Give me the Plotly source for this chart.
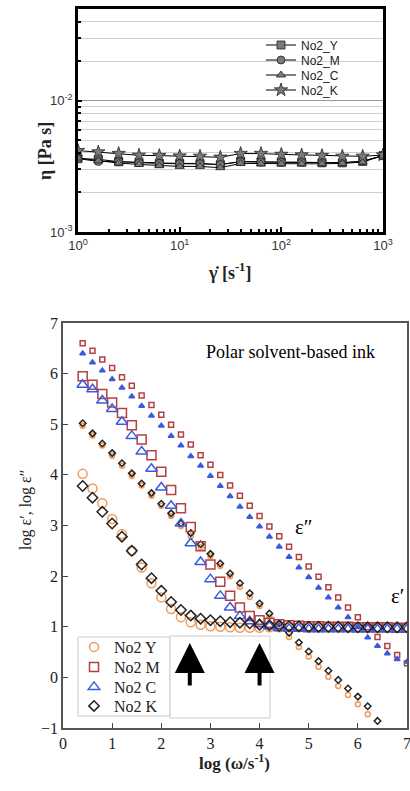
import plotly.graph_objects as go

W, H = 410, 791

# ---------------- top chart data (viscosity) ----------------
shear_rate = [1, 1.585, 2.512, 3.981, 6.31, 10, 15.85, 25.12, 39.81, 63.1,
              100, 158.5, 251.2, 398.1, 631, 1000]
eta_Y = [3.62e-3, 3.58e-3, 3.43e-3, 3.40e-3, 3.33e-3, 3.33e-3, 3.33e-3, 3.26e-3,
         3.45e-3, 3.41e-3, 3.40e-3, 3.40e-3, 3.37e-3, 3.37e-3, 3.45e-3, 3.82e-3]
eta_M = [3.62e-3, 3.45e-3, 3.43e-3, 3.37e-3, 3.33e-3, 3.31e-3, 3.31e-3, 3.26e-3,
         3.43e-3, 3.41e-3, 3.40e-3, 3.40e-3, 3.37e-3, 3.37e-3, 3.47e-3, 3.82e-3]
eta_C = [3.66e-3, 3.49e-3, 3.35e-3, 3.27e-3, 3.20e-3, 3.16e-3, 3.16e-3, 3.09e-3,
         3.33e-3, 3.31e-3, 3.31e-3, 3.31e-3, 3.31e-3, 3.33e-3, 3.41e-3, 3.82e-3]
eta_K = [4.17e-3, 4.07e-3, 3.96e-3, 3.84e-3, 3.82e-3, 3.79e-3, 3.77e-3, 3.71e-3,
         3.96e-3, 3.96e-3, 3.90e-3, 3.86e-3, 3.82e-3, 3.77e-3, 3.77e-3, 3.86e-3]
top_names = ["No2_Y", "No2_M", "No2_C", "No2_K"]
top_tickvals_x = [1, 10, 100, 1000]
top_ticktext_x = ["10<sup>0</sup>", "10<sup>1</sup>", "10<sup>2</sup>", "10<sup>3</sup>"]
top_tickvals_y = [0.001, 0.01]
top_ticktext_y = ["10<sup>-3</sup>", "10<sup>-2</sup>"]
top_minor_y = [0.002, 0.003, 0.004, 0.005, 0.006, 0.007, 0.008, 0.009,
               0.02, 0.03, 0.04]
top_minor_x = [2, 3, 4, 5, 6, 7, 8, 9, 20, 30, 40, 50, 60, 70, 80, 90,
               200, 300, 400, 500, 600, 700, 800, 900]

# ---------------- bottom chart data (dielectric) ----------------
log_w = [0.4, 0.6, 0.8, 1.0, 1.2, 1.4, 1.6, 1.8, 2.0, 2.2, 2.4, 2.6, 2.8, 3.0,
         3.2, 3.4, 3.6, 3.8, 4.0, 4.2, 4.4, 4.6, 4.8, 5.0, 5.2, 5.4, 5.6, 5.8,
         6.0, 6.2, 6.4, 6.6, 6.8, 7.0]
# epsilon' (large open markers)
e1_Y = [4.02, 3.73, 3.44, 3.13, 2.83, 2.50, 2.17, 1.86, 1.58, 1.35, 1.19, 1.09,
        1.04, 1.01, 1.00, 0.99, 0.98, 0.98, 0.98, 0.99, 0.99, 0.99, 0.99, 0.99,
        0.99, 0.99, 0.99, 0.99, 0.99, 0.98, 0.98, 0.98, 0.98, 0.98]
e1_M = [5.95, 5.78, 5.60, 5.43, 5.22, 4.98, 4.70, 4.39, 4.06, 3.70, 3.34, 2.97,
        2.59, 2.23, 1.89, 1.61, 1.38, 1.21, 1.13, 1.08, 1.05, 1.03, 1.02, 1.01,
        1.01, 1.00, 1.00, 1.00, 0.99, 0.99, 0.99, 0.99, 0.98, 0.98]
e1_C = [5.78, 5.69, 5.47, 5.30, 5.05, 4.77, 4.46, 4.12, 3.75, 3.39, 3.04, 2.65,
        2.28, 1.94, 1.61, 1.38, 1.21, 1.11, 1.05, 1.01, 0.97, 0.96, 0.96, 0.95,
        0.95, 0.95, 0.95, 0.95, 0.95, 0.95, 0.95, 0.95, 0.95, 0.95]
e1_K = [3.78, 3.55, 3.27, 3.04, 2.78, 2.50, 2.23, 1.96, 1.71, 1.49, 1.33, 1.22,
        1.16, 1.13, 1.11, 1.09, 1.08, 1.07, 1.04, 1.03, 1.02, 1.01, 1.01, 1.00,
        1.00, 1.00, 1.00, 0.99, 0.99, 0.99, 0.99, 0.99, 0.99, 0.99]
# epsilon'' (small markers)
e2_Y = [4.97, 4.78, 4.58, 4.38, 4.18, 3.98, 3.79, 3.59, 3.39, 3.19, 2.99, 2.79,
        2.57, 2.40, 2.20, 2.00, 1.79, 1.59, 1.41, 1.20, 1.02, 0.80, 0.60, 0.41,
        0.21, 0.01, -0.17, -0.35, -0.53, -0.73, None, None, None, None]
e2_M = [6.60, 6.45, 6.28, 6.11, 5.93, 5.76, 5.57, 5.38, 5.19, 4.99, 4.80, 4.60,
        4.39, 4.20, 4.00, 3.79, 3.59, 3.39, 3.19, 2.98, 2.79, 2.58, 2.38, 2.19,
        1.99, 1.78, 1.58, 1.38, 1.19, 0.99, 0.80, 0.62, 0.44, 0.28]
e2_C = [6.40, 6.22, 6.06, 5.89, 5.72, 5.55, 5.36, 5.17, 4.97, 4.77, 4.58, 4.37,
        4.18, 3.98, 3.78, 3.58, 3.37, 3.17, 2.98, 2.78, 2.58, 2.38, 2.17, 1.98,
        1.77, 1.58, 1.38, 1.19, 0.99, 0.79, 0.62, 0.47, 0.36, 0.31]
e2_K = [5.02, 4.82, 4.62, 4.43, 4.23, 4.03, 3.83, 3.64, 3.43, 3.24, 3.04, 2.85,
        2.63, 2.44, 2.25, 2.05, 1.86, 1.66, 1.46, 1.26, 1.07, 0.88, 0.69, 0.51,
        0.32, 0.13, -0.05, -0.22, -0.38, -0.57, -0.86, None, None, None]
bottom_names = ["No2 Y", "No2 M", "No2 C", "No2 K"]
arrow_x = [2.58, 4.0]

# ---------------- styles ----------------
SERIF = "Liberation Serif"
SANS = "Liberation Sans"
COL = {"Y": "#F39A56", "M": "#B5403F", "C": "#3A5BE0", "K": "#222222"}


def px_x(p):
    return p / W


def px_y(p):
    return 1 - p / H


fig = go.Figure()
legends = {}

# top traces, each in its own single-entry legend (for exact row spacing)
top_symbols = ["square", "circle", "triangle-up", "star"]
top_leg_rows = [45, 60, 75, 90]
for i, (name, vals, sym) in enumerate(zip(top_names, [eta_Y, eta_M, eta_C, eta_K], top_symbols)):
    lg = "legend" if i == 0 else f"legend{i + 1}"
    fig.add_trace(go.Scatter(
        x=shear_rate, y=vals, name=name, mode="lines+markers",
        line=dict(color="black", width=1),
        marker=dict(symbol=sym, size=10 if sym == "star" else 8, color="#7a7a7a",
                    line=dict(color="#222", width=0.8)),
        xaxis="x", yaxis="y", legend=lg))
    legends[lg] = dict(x=px_x(261), y=px_y(top_leg_rows[i]), xanchor="left", yanchor="middle",
                       bgcolor="rgba(0,0,0,0)", borderwidth=0,
                       font=dict(family=SANS, size=12, color="#222"), itemwidth=30)

# bottom traces: epsilon'' small markers (drawn first)
small = [("Y", e2_Y, "circle-open", 5), ("M", e2_M, "square-open", 5),
         ("C", e2_C, "triangle-up", 5), ("K", e2_K, "diamond-open", 5)]
for key, vals, sym, sz in small:
    fig.add_trace(go.Scatter(
        x=log_w, y=vals, mode="markers", showlegend=False,
        marker=dict(symbol=sym, size=sz, color=COL[key], line=dict(color=COL[key], width=1.5)),
        xaxis="x2", yaxis="y2"))

big = [("Y", e1_Y, "circle-open", 9), ("M", e1_M, "square-open", 9),
       ("C", e1_C, "triangle-up-open", 10), ("K", e1_K, "diamond-open", 8)]
bot_leg_rows = [647, 667, 687, 706]
for i, ((key, vals, sym, sz), name) in enumerate(zip(big, bottom_names)):
    lg = f"legend{i + 5}"
    fig.add_trace(go.Scatter(
        x=log_w, y=vals, mode="markers", name=name,
        marker=dict(symbol=sym, size=sz, color=COL[key], line=dict(color=COL[key], width=1.5)),
        xaxis="x2", yaxis="y2", legend=lg))
    legends[lg] = dict(x=px_x(74), y=px_y(bot_leg_rows[i]), xanchor="left", yanchor="middle",
                       bgcolor="rgba(0,0,0,0)", borderwidth=0,
                       font=dict(family=SERIF, size=16, color="#222"), itemwidth=30)

# layout axes
top_dom_x = [px_x(78), px_x(383)]
top_dom_y = [px_y(232), px_y(9)]
bot_dom_x = [px_x(63), px_x(407)]
bot_dom_y = [px_y(728), px_y(323)]

fig.update_layout(
    width=W, height=H, margin=dict(l=0, r=0, t=0, b=0, autoexpand=False),
    paper_bgcolor="white", plot_bgcolor="white",
    xaxis=dict(domain=top_dom_x, type="log", range=[0, 3], anchor="y", automargin=False,
               tickvals=top_tickvals_x, ticktext=top_ticktext_x, ticklabeloverflow="allow",
               ticks="inside", ticklen=5, tickwidth=2, tickcolor="black",
               showgrid=False, zeroline=False,
               showline=True, linewidth=2.5, linecolor="black", mirror=True,
               tickfont=dict(family=SANS, size=13, color="#333"),
               minor=dict(tickmode="array", tickvals=top_minor_x, ticks="inside",
                          ticklen=3, tickwidth=2, tickcolor="black", showgrid=False)),
    yaxis=dict(domain=top_dom_y, type="log", range=[-3, -1.301], anchor="x", automargin=False,
               tickvals=top_tickvals_y, ticktext=top_ticktext_y, ticklabeloverflow="allow",
               ticks="inside", ticklen=4, tickwidth=1.5, tickcolor="black",
               showgrid=True, gridcolor="#9a9a9a", gridwidth=1, zeroline=False,
               showline=True, linewidth=2.5, linecolor="black", mirror=True,
               tickfont=dict(family=SANS, size=13, color="#333"),
               minor=dict(tickmode="array", tickvals=top_minor_y, ticks="inside",
                          ticklen=3, tickwidth=1.5, tickcolor="black",
                          showgrid=True, gridcolor="#cfcfcf", gridwidth=1)),
    xaxis2=dict(domain=bot_dom_x, range=[0, 7], anchor="y2", automargin=False,
                tickvals=[0, 1, 2, 3, 4, 5, 6, 7], ticklabeloverflow="allow",
                ticks="inside", ticklen=5, tickwidth=1, tickcolor="#444",
                showgrid=False, zeroline=False,
                showline=True, linewidth=1.5, linecolor="#555", mirror=True,
                tickfont=dict(family=SERIF, size=16, color="#222")),
    yaxis2=dict(domain=bot_dom_y, range=[-1, 7], anchor="x2", automargin=False,
                tickvals=[-1, 0, 1, 2, 3, 4, 5, 6, 7], ticklabeloverflow="allow",
                ticks="inside", ticklen=5, tickwidth=1, tickcolor="#444",
                showgrid=False, zeroline=False,
                showline=True, linewidth=1.5, linecolor="#555", mirror=True,
                tickfont=dict(family=SERIF, size=16, color="#222")),
    showlegend=True,
    **legends,
)

# boxes around legend / arrow region (bottom chart)
fig.add_shape(type="rect", xref="paper", yref="paper",
              x0=px_x(78), x1=px_x(170), y0=px_y(716), y1=px_y(637),
              line=dict(color="#cccccc", width=1), fillcolor="white", layer="below")
fig.add_shape(type="rect", xref="paper", yref="paper",
              x0=px_x(170), x1=px_x(270), y0=px_y(718), y1=px_y(636),
              line=dict(color="#cccccc", width=1), fillcolor="white", layer="below")

ann = []
# axis titles
ann.append(dict(text="<b>γ̇ [s<sup>-1</sup>]</b>", xref="paper", yref="paper",
                x=px_x(229), y=px_y(271), showarrow=False,
                font=dict(family=SERIF, size=18, color="#222")))
ann.append(dict(text="<b>η [Pa s]</b>", xref="paper", yref="paper", textangle=-90,
                x=px_x(33), y=px_y(120), showarrow=False,
                font=dict(family=SERIF, size=18, color="#222")))
ann.append(dict(text="<b>log (ω/s<sup>-1</sup>)</b>", xref="paper", yref="paper",
                x=px_x(235), y=px_y(775), showarrow=False,
                font=dict(family=SERIF, size=17, color="#222")))
ann.append(dict(text="log ε′, log ε″", xref="paper", yref="paper", textangle=-90,
                x=px_x(15), y=px_y(510), showarrow=False,
                font=dict(family=SERIF, size=16, color="#222")))
# in-plot labels
ann.append(dict(text="Polar solvent-based ink", xref="x2", yref="y2", x=4.63, y=6.43,
                showarrow=False, font=dict(family=SERIF, size=18, color="black")))
ann.append(dict(text="ε″", xref="x2", yref="y2", x=4.9, y=2.97,
                showarrow=False, font=dict(family=SERIF, size=21, color="black")))
ann.append(dict(text="ε′", xref="x2", yref="y2", x=6.8, y=1.6,
                showarrow=False, font=dict(family=SERIF, size=21, color="black")))
# arrows
for ax_ in arrow_x:
    ann.append(dict(text="", xref="x2", yref="y2", x=ax_, y=0.68, ax=0, ay=44,
                    showarrow=True, arrowhead=2, arrowsize=1.5, arrowwidth=4,
                    arrowcolor="black"))
fig.update_layout(annotations=ann)

fig.write_html("out.html", config={"displayModeBar": False},
               post_script="document.body.style.margin='0';"
                           "document.documentElement.style.overflow='hidden';")
